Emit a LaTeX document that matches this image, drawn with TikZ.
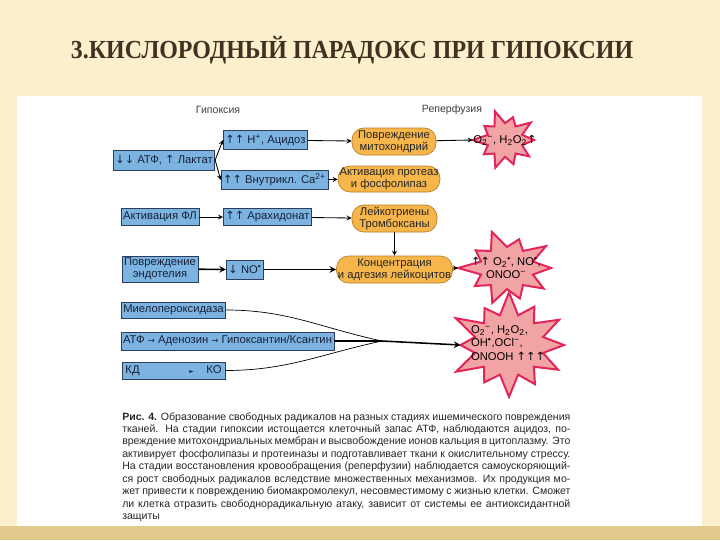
\documentclass[tikz,border=0pt]{standalone}
\usepackage{fontspec}
\setmainfont{Liberation Sans}
\newfontfamily\titlefont[FakeStretch=0.92]{Liberation Serif}
\newfontfamily\symfont{DejaVu Sans}
\usetikzlibrary{arrows,positioning,calc}

\definecolor{cream}{HTML}{FCEFCB}
\definecolor{tanband}{HTML}{E4C98E}
\definecolor{titlebrown}{HTML}{3F3222}
\definecolor{boxblue}{HTML}{7DB3E0}
\definecolor{boxline}{HTML}{2B3E5C}
\definecolor{boxtext}{HTML}{15223A}
\definecolor{ovalfill}{HTML}{F6B64B}
\definecolor{ovalline}{HTML}{B98026}
\definecolor{burstfill}{HTML}{F2A3A3}
\definecolor{burstline}{HTML}{E2245A}

\newcommand{\uparr}{{\symfont ↑}}
\newcommand{\dnarr}{{\symfont ↓}}
\newcommand{\ssub}[2]{\textsubscript{#2}\textsuperscript{#1}}
\newlength{\capw}
\setlength{\capw}{11.2cm}
\newcommand{\jline}[1]{\makebox[\capw][s]{#1}}
% burst: cx, cy, rx, ry, last index (2n-1), inner ratio, tip name
\newcommand{\burst}[7]{%
  \draw[burst] plot[samples at={0,...,#5}, variable=\k]
    ({#1+#3*((mod(\k,2)==0) ? (1+0.12*sin(\k*83)) : (#6))*cos(\k*360/(#5+1))},
     {#2+#4*((mod(\k,2)==0) ? (1+0.12*sin(\k*83)) : (#6))*sin(\k*360/(#5+1))}) -- cycle;
  \coordinate (#7) at ({#1-#3*(1+0.12*sin(((#5+1)/2)*83))}, #2);}

\begin{document}
\begin{tikzpicture}[x=0.025cm, y=-0.025cm,
    blue/.style={draw=boxline, fill=boxblue, rectangle, inner sep=1.5pt, line width=0.5pt, text=boxtext, font=\fontsize{8}{9}\selectfont},
    oval/.style={draw=ovalline, fill=ovalfill, rounded corners=0.3cm, inner sep=1pt, line width=0.5pt, align=center, text=black!85, font=\fontsize{8}{8.5}\selectfont},
    burst/.style={draw=burstline, fill=burstfill, line width=1.4pt, line join=miter},
    bursttext/.style={align=left, inner sep=0pt, font=\fontsize{8}{9.6}\selectfont},
    edge/.style={-stealth, draw=black, line width=0.6pt},
    boldedge/.style={edge, line width=1.1pt},
    stagelabel/.style={text=black!75, font=\fontsize{7.5}{9}\selectfont},
    caption/.style={anchor=north west, align=left, inner sep=0pt, text=black!85, font=\fontsize{7.5}{8.86}\selectfont},
]
\useasboundingbox (0,0) rectangle (720,540);

% slide background
\fill[cream] (0,0) rectangle (720,540);
\fill[white] (17,96) rectangle (702,526);
\fill[tanband] (0,526) rectangle (720,540);

\node[text=titlebrown, font=\titlefont\bfseries\fontsize{18.5}{21}\selectfont] (title) at (352,50) {3.КИСЛОРОДНЫЙ ПАРАДОКС ПРИ ГИПОКСИИ};

% stages
\node[stagelabel] (hyp) at (218,110) {Гипоксия};
\node[stagelabel] (rep) at (452,110) {Реперфузия};

% hypoxia column
\node[blue, minimum width=2.15cm, minimum height=0.5cm] (atp) at (164,160) {\dnarr\dnarr\ АТФ, \uparr\ Лактат};
\node[blue, minimum width=1.825cm, minimum height=0.475cm] (hplus) at (265.5,140) {\uparr\uparr\ H\textsuperscript{+}, Ацидоз};
\node[blue, minimum width=2.275cm, minimum height=0.475cm] (ca) at (274.5,180) {\uparr\uparr\ Внутрикл. Ca\textsuperscript{2+}};
\node[blue, minimum width=1.9cm, minimum height=0.425cm] (flact) at (160,217) {Активация ФЛ};
\node[blue, minimum width=1.925cm, minimum height=0.425cm] (arach) at (267.5,217) {\uparr\uparr\ Арахидонат};
\node[blue, minimum width=1.9cm, minimum height=0.6cm, align=center, font=\fontsize{8}{8.5}\selectfont] (endo) at (160,269) {Повреждение\\эндотелия};
\node[blue, minimum width=0.8cm, minimum height=0.475cm] (no) at (245,269.5) {\dnarr\ NO\textsuperscript{•}};
\node[blue, minimum width=2.575cm, minimum height=0.4cm] (mpo) at (173.5,310) {Миелопероксидаза};
\node[blue, minimum width=5.275cm, minimum height=0.45cm] (aden) at (227.5,341) {АТФ {\symfont\fontsize{6}{7}\selectfont →} Аденозин {\symfont\fontsize{6}{7}\selectfont →} Гипоксантин/Ксантин};
\node[blue, minimum width=2.575cm, minimum height=0.425cm, text width=2.4cm] (kd) at (173.5,370.5) {КД\hfill{\symfont\fontsize{4}{5}\selectfont ►}\hspace{9pt}КО\hspace{6pt}};

% reperfusion column
\node[oval, minimum width=2.1cm, minimum height=0.675cm] (mito) at (394,141.5) {Повреждение\\митохондрий};
\node[oval, minimum width=2.3cm, minimum height=0.65cm] (prot) at (389,179) {Активация протеаз\\и фосфолипаз};
\node[oval, minimum width=2.125cm, minimum height=0.675cm] (leuk) at (394.5,218.5) {Лейкотриены\\Тромбоксаны};
\node[oval, minimum width=2.875cm, minimum height=0.675cm] (conc) at (394.5,269.5) {Концентрация\\и адгезия лейкоцитов};

% radicals
\burst{507}{268}{44}{34}{19}{0.62}{tip2}
\burst{509}{345}{55}{48}{23}{0.64}{tip3}
\burst{505}{140}{29}{27}{19}{0.62}{tip1}
\node[bursttext] (rad1) at (505,140) {O\ssub{−}{2}, H\textsubscript{2}O\textsubscript{2}\uparr};
\node[bursttext, align=center] (rad2) at (506,268) {\uparr\uparr\ O\ssub{•}{2}, NO\textsuperscript{•},\\ONOO\textsuperscript{−}};
\node[bursttext] (rad3) at (508,343) {O\ssub{−}{2}, H\textsubscript{2}O\textsubscript{2},\\OH\textsuperscript{•},OCl\textsuperscript{−},\\ONOOH \uparr\uparr\uparr};

% connectors
\draw[edge] (atp.east) -- (hplus.west);
\draw[edge] (atp.east) -- (ca.west);
\draw[edge] (hplus) -- (mito);
\draw[edge] (ca) -- (prot);
\draw[edge] (mito) -- (tip1);
\draw[edge] (flact) -- (arach);
\draw[edge] (arach) -- (leuk);
\draw[edge] (leuk) -- (conc);
\draw[boldedge] (endo) -- (no);
\draw[boldedge] (no) -- (conc);
\draw[edge] (conc) -- (tip2);

% merging lines
\coordinate (merge) at (382,341);
\draw[line width=0.5pt] (mpo.east) to[out=0, in=168] (merge);
\draw[line width=0.5pt] (kd.east) to[out=0, in=192] (merge);
\draw[line width=1.1pt] (aden.east) -- (merge);
\draw[boldedge] (merge) -- (tip3);

% figure caption
\node[caption] (cap) at (122,412) {%
\jline{\textbf{Рис. 4.} Образование свободных радикалов на разных стадиях ишемического повреждения}\\
\jline{тканей. На стадии гипоксии истощается клеточный запас АТФ, наблюдаются ацидоз, по-}\\
\jline{вреждение митохондриальных мембран и высвобождение ионов кальция в цитоплазму. Это}\\
\jline{активирует фосфолипазы и протеиназы и подготавливает ткани к окислительному стрессу.}\\
\jline{На стадии восстановления кровообращения (реперфузии) наблюдается самоускоряющий-}\\
\jline{ся рост свободных радикалов вследствие множественных механизмов. Их продукция мо-}\\
\jline{жет привести к повреждению биомакромолекул, несовместимому с жизнью клетки. Сможет}\\
\jline{ли клетка отразить свободнорадикальную атаку, зависит от системы ее антиоксидантной}\\
защиты};

\end{tikzpicture}
\end{document}
